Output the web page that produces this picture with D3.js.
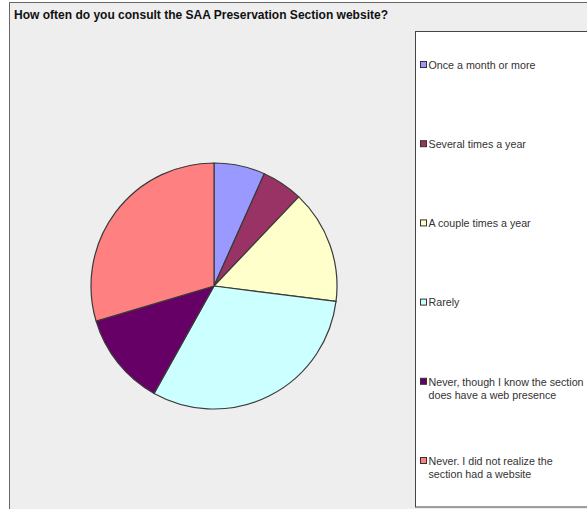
<!DOCTYPE html>
<html><head><meta charset="utf-8">
<script src="https://cdn.jsdelivr.net/npm/d3@7"></script>
<style>html,body{margin:0;padding:0;background:#fff;}svg{display:block;font-family:"Liberation Sans",Arial,sans-serif;}</style>
</head><body>
<svg id="c" width="587" height="509"></svg>
<script>
const title = "How often do you consult the SAA Preservation Section website?";
const categories = [
  ["Once a month or more"],
  ["Several times a year"],
  ["A couple times a year"],
  ["Rarely"],
  ["Never, though I know the section", "does have a web presence"],
  ["Never. I did not realize the", "section had a website"]
];
const values = [6.7, 5.4, 14.9, 31.1, 12.3, 29.6];
const colors = ["#9999FF", "#993366", "#FFFFCC", "#CCFFFF", "#660066", "#FF8080"];

const svg = d3.select("#c");
svg.append("rect").attr("x", 9.5).attr("y", 2.5).attr("width", 600).attr("height", 520)
  .attr("fill", "#EEEEEE").attr("stroke", "#666").attr("stroke-width", 1);

svg.append("text").attr("x", 14).attr("y", 19).attr("font-size", 12.5).attr("font-weight", "bold")
  .attr("fill", "#111").attr("textLength", 374).attr("lengthAdjust", "spacingAndGlyphs").text(title);

const cx = 214, cy = 286, r = 123;
const pie = d3.pie().sort(null).value(d => d);
const arc = d3.arc().innerRadius(0).outerRadius(r);
const g = svg.append("g").attr("transform", `translate(${cx},${cy})`);
g.selectAll("path").data(pie(values)).join("path")
  .attr("d", arc).attr("fill", (d, i) => colors[i])
  .attr("stroke", "#3a3a3a").attr("stroke-width", 1.2).attr("stroke-linejoin", "round");

// legend
svg.append("rect").attr("x", 415.5).attr("y", 31.5).attr("width", 200).attr("height", 475.5)
  .attr("fill", "#fff").attr("stroke", "#444").attr("stroke-width", 1);
const ly = d3.scalePoint().domain(d3.range(categories.length)).range([65, 461]);
const lg = svg.append("g").selectAll("g").data(categories).join("g")
  .attr("transform", (d, i) => `translate(420,${ly(i)})`);
lg.append("rect").attr("x", 0.5).attr("y", -3.5).attr("width", 6).attr("height", 6)
  .attr("fill", (d, i) => colors[i]).attr("stroke", "#333").attr("stroke-width", 1);
lg.each(function (d) {
  const t = d3.select(this).append("text").attr("font-size", 10.7).attr("fill", "#333");
  d.forEach((line, j) => {
    t.append("tspan").attr("x", 8.5).attr("y", 3.8 + j * 13).text(line);
  });
});
</script>
</body></html>
